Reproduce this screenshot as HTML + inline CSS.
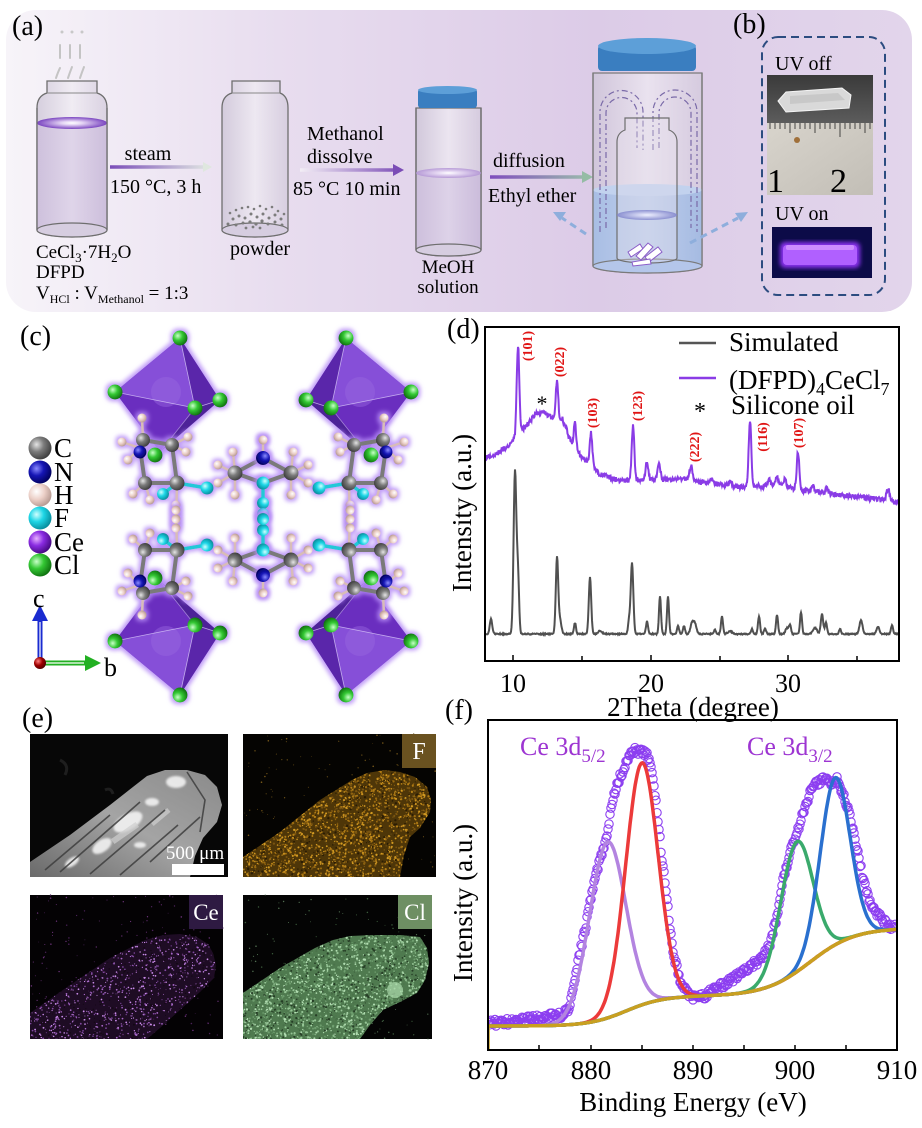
<!DOCTYPE html>
<html><head><meta charset="utf-8"><title>figure</title>
<style>
html,body{margin:0;padding:0;background:#fff;width:922px;height:1128px;overflow:hidden}
svg{display:block}
text{font-family:"Liberation Serif","Times New Roman",serif;}
</style></head><body>
<svg id="fig" width="922" height="1128" viewBox="0 0 922 1128" xmlns="http://www.w3.org/2000/svg">
<defs>
 <linearGradient id="bgA" x1="0" x2="1" y1="0" y2="0">
  <stop offset="0" stop-color="#f7f4f9"/>
  <stop offset="0.3" stop-color="#e8ddef"/>
  <stop offset="0.65" stop-color="#dccbe7"/>
  <stop offset="1" stop-color="#e2d5eb"/>
 </linearGradient>
 <linearGradient id="glass" x1="0" x2="1" y1="0" y2="0">
  <stop offset="0" stop-color="#cbc3d5"/><stop offset="0.5" stop-color="#efebf2"/><stop offset="1" stop-color="#d2c9db"/>
 </linearGradient>
 <linearGradient id="liq" x1="0" x2="1" y1="0" y2="0">
  <stop offset="0" stop-color="#cdbfdc"/><stop offset="0.5" stop-color="#ddd2e8"/><stop offset="1" stop-color="#cbbcdb"/>
 </linearGradient>
 <linearGradient id="bliq" x1="0" x2="1" y1="0" y2="0">
  <stop offset="0" stop-color="#a6bde4"/><stop offset="0.5" stop-color="#bccdec"/><stop offset="1" stop-color="#a3bae2"/>
 </linearGradient>
 <radialGradient id="pe" cx="0.5" cy="0.5" r="0.5">
  <stop offset="0" stop-color="#ffffff"/><stop offset="0.3" stop-color="#e4d4f4"/><stop offset="1" stop-color="#7a45c0"/>
 </radialGradient>
 <radialGradient id="pe2" cx="0.5" cy="0.5" r="0.5">
  <stop offset="0" stop-color="#ffffff"/><stop offset="0.3" stop-color="#e8dcf4"/><stop offset="1" stop-color="#b69ad6"/>
 </radialGradient>
 <radialGradient id="be" cx="0.5" cy="0.5" r="0.5">
  <stop offset="0" stop-color="#eef0ff"/><stop offset="1" stop-color="#8a8fd0"/>
 </radialGradient>
 <radialGradient id="gC" cx="0.35" cy="0.35" r="0.7"><stop offset="0" stop-color="#e4e4e4"/><stop offset="0.45" stop-color="#7c7c7c"/><stop offset="1" stop-color="#3c3c3c"/></radialGradient>
 <radialGradient id="gN" cx="0.35" cy="0.35" r="0.7"><stop offset="0" stop-color="#8a8aff"/><stop offset="0.45" stop-color="#1515b5"/><stop offset="1" stop-color="#00005a"/></radialGradient>
 <radialGradient id="gH" cx="0.35" cy="0.35" r="0.7"><stop offset="0" stop-color="#ffffff"/><stop offset="0.5" stop-color="#ecd0c8"/><stop offset="1" stop-color="#b59890"/></radialGradient>
 <radialGradient id="gF" cx="0.35" cy="0.35" r="0.7"><stop offset="0" stop-color="#d0ffff"/><stop offset="0.45" stop-color="#1ed6e6"/><stop offset="1" stop-color="#068a9a"/></radialGradient>
 <radialGradient id="gCe" cx="0.35" cy="0.35" r="0.7"><stop offset="0" stop-color="#e8b0ff"/><stop offset="0.45" stop-color="#8a2be2"/><stop offset="1" stop-color="#44087e"/></radialGradient>
 <radialGradient id="gCl" cx="0.35" cy="0.35" r="0.7"><stop offset="0" stop-color="#c8ffc8"/><stop offset="0.45" stop-color="#34c834"/><stop offset="1" stop-color="#0e6e0e"/></radialGradient>
 <radialGradient id="gRed" cx="0.35" cy="0.35" r="0.7"><stop offset="0" stop-color="#ff8080"/><stop offset="0.5" stop-color="#a00000"/><stop offset="1" stop-color="#500000"/></radialGradient>
 <filter id="glow" x="-20%" y="-20%" width="140%" height="140%">
  <feMorphology operator="dilate" radius="2" in="SourceAlpha" result="d"/>
  <feGaussianBlur in="d" stdDeviation="2.2" result="b"/>
  <feFlood flood-color="#b68cf6" flood-opacity="0.85"/>
  <feComposite in2="b" operator="in" result="g"/>
  <feMerge><feMergeNode in="g"/><feMergeNode in="SourceGraphic"/></feMerge>
 </filter>
 <filter id="blur2"><feGaussianBlur stdDeviation="2"/></filter>
 <filter id="blur1"><feGaussianBlur stdDeviation="1"/></filter>
 <filter id="blur3"><feGaussianBlur stdDeviation="3"/></filter>
 <linearGradient id="ar1" gradientUnits="userSpaceOnUse" x1="110" y1="0" x2="212" y2="0"><stop offset="0" stop-color="#7a4db8"/><stop offset="1" stop-color="#e4ebe4"/></linearGradient>
 <linearGradient id="ar2" gradientUnits="userSpaceOnUse" x1="300" y1="0" x2="403" y2="0"><stop offset="0" stop-color="#f3eef5"/><stop offset="1" stop-color="#7b4cb6"/></linearGradient>
 <linearGradient id="ar3" gradientUnits="userSpaceOnUse" x1="490" y1="0" x2="592" y2="0"><stop offset="0" stop-color="#7f4dbd"/><stop offset="1" stop-color="#9cc0ab"/></linearGradient>
 <linearGradient id="sem" x1="0" y1="1" x2="1" y2="0"><stop offset="0" stop-color="#6a6a6a"/><stop offset="0.5" stop-color="#a4a4a4"/><stop offset="1" stop-color="#8a8a8a"/></linearGradient>
 <linearGradient id="dark1" x1="0" y1="0" x2="0" y2="1"><stop offset="0" stop-color="#3a3a3a"/><stop offset="1" stop-color="#5c5c5c"/></linearGradient>
 <linearGradient id="ruler" x1="0" y1="0" x2="1" y2="1"><stop offset="0" stop-color="#d8d4cc"/><stop offset="1" stop-color="#c2beb6"/></linearGradient>
 <clipPath id="cSem"><polygon points="30,862 70,835 110,805 147,776 165,770 187,770 205,775 217,787 222,805 217,822 203,838 195,856 190,877 30,877"/></clipPath>
 <clipPath id="cF"><polygon points="243,857 280,832 320,800 352,780 367,773 385,770 400,772 415,777 427,787 431,800 430,812 420,828 410,837 404,855 400,877 243,877"/></clipPath>
 <clipPath id="cCe"><polygon points="30,1013 70,985 110,958 145,940 163,935 180,934 197,937 208,944 213,953 216,965 214,978 200,992 180,1010 160,1028 147,1039 30,1039"/></clipPath>
 <clipPath id="cCl"><polygon points="243,993 280,968 315,948 333,940 350,936 373,935 400,935 420,937 427,948 429,963 425,980 417,993 400,1002 383,1010 370,1025 360,1039 243,1039"/></clipPath>
 <clipPath id="cD"><rect x="486" y="328" width="413" height="332"/></clipPath>
 <clipPath id="cFx"><rect x="489" y="721" width="407" height="328"/></clipPath>

 <g id="quad">
  <g filter="url(#glow)">
   <polygon points="180,338 115,392 160,452 220,400" fill="#6c33c4"/>
   <polygon points="180,338 115,392 195,408" fill="#8650d8"/>
   <polygon points="115,392 195,408 160,452" fill="#6a2fbf"/>
   <polygon points="180,338 195,408 220,400" fill="#5a27aa"/>
   <polygon points="195,408 220,400 160,452" fill="#4e2098"/>
   <circle cx="166" cy="392" r="15" fill="#9a66e0" opacity="0.45"/>
   <polyline points="180,338 195,408 115,392" fill="none" stroke="#e6d8ff" stroke-width="0.8" opacity="0.7"/>
   <line x1="195" y1="408" x2="220" y2="400" stroke="#e6d8ff" stroke-width="0.8" opacity="0.7"/>
   <line x1="195" y1="408" x2="160" y2="452" stroke="#e6d8ff" stroke-width="0.8" opacity="0.5"/>
   <circle cx="180" cy="338" r="7.5" fill="url(#gCl)"/>
   <circle cx="115" cy="392" r="7.5" fill="url(#gCl)"/>
   <circle cx="220" cy="400" r="7.5" fill="url(#gCl)"/>
   <circle cx="195" cy="408" r="7.5" fill="url(#gCl)"/>
  </g>
  <g filter="url(#glow)">
   <g stroke="#d8bcb8" stroke-width="2.5" stroke-linecap="round">
    <line x1="143" y1="440" x2="142" y2="418"/><line x1="140" y1="448" x2="122" y2="442"/><line x1="140" y1="448" x2="128" y2="460"/>
    <line x1="145" y1="483" x2="133" y2="494"/><line x1="145" y1="483" x2="150" y2="500"/>
    <line x1="172" y1="445" x2="188" y2="437"/><line x1="172" y1="445" x2="186" y2="452"/>
    <line x1="177" y1="483" x2="176" y2="525"/>
    <line x1="263" y1="458" x2="263" y2="440"/>
    <line x1="235" y1="473" x2="233" y2="452"/><line x1="235" y1="473" x2="218" y2="465"/><line x1="235" y1="473" x2="218" y2="483"/><line x1="235" y1="473" x2="235" y2="495"/>
   </g>
   <g stroke="#7a7a7a" stroke-width="4" stroke-linecap="round">
    <line x1="143" y1="440" x2="140" y2="448"/><line x1="140" y1="448" x2="145" y2="483"/>
    <line x1="145" y1="483" x2="177" y2="483"/><line x1="177" y1="483" x2="172" y2="445"/>
    <line x1="172" y1="445" x2="143" y2="440"/>
    <line x1="263" y1="458" x2="235" y2="473"/><line x1="235" y1="473" x2="263" y2="483"/>
   </g>
   <g stroke="#23c8d8" stroke-width="3.5" stroke-linecap="round">
    <line x1="177" y1="483" x2="163" y2="494"/><line x1="177" y1="483" x2="207" y2="488"/>
    <line x1="263" y1="483" x2="263" y2="516"/>
   </g>
   <circle cx="142" cy="418" r="4.5" fill="url(#gH)"/><circle cx="122" cy="442" r="4.5" fill="url(#gH)"/>
   <circle cx="128" cy="460" r="4.5" fill="url(#gH)"/><circle cx="133" cy="494" r="4.5" fill="url(#gH)"/>
   <circle cx="150" cy="500" r="4.5" fill="url(#gH)"/><circle cx="188" cy="437" r="4.5" fill="url(#gH)"/>
   <circle cx="186" cy="452" r="4.5" fill="url(#gH)"/><circle cx="176" cy="505" r="4.5" fill="url(#gH)"/>
   <circle cx="176" cy="514" r="4.5" fill="url(#gH)"/><circle cx="176" cy="523" r="4.5" fill="url(#gH)"/>
   <circle cx="263" cy="440" r="4.5" fill="url(#gH)"/><circle cx="233" cy="452" r="4.5" fill="url(#gH)"/>
   <circle cx="218" cy="465" r="4.5" fill="url(#gH)"/><circle cx="218" cy="483" r="4.5" fill="url(#gH)"/>
   <circle cx="235" cy="495" r="4.5" fill="url(#gH)"/>
   <circle cx="143" cy="440" r="7" fill="url(#gC)"/>
   <circle cx="140" cy="452" r="6.5" fill="url(#gN)"/>
   <circle cx="145" cy="483" r="7" fill="url(#gC)"/>
   <circle cx="172" cy="445" r="7" fill="url(#gC)"/>
   <circle cx="177" cy="483" r="7.5" fill="url(#gC)"/>
   <circle cx="163" cy="494" r="6" fill="url(#gF)"/>
   <circle cx="207" cy="488" r="6.5" fill="url(#gF)"/>
   <circle cx="263" cy="458" r="7" fill="url(#gN)"/>
   <circle cx="235" cy="473" r="7.5" fill="url(#gC)"/>
   <circle cx="263" cy="483" r="6.5" fill="url(#gF)"/>
   <circle cx="263" cy="503" r="6" fill="url(#gF)"/>
   <circle cx="263" cy="514" r="6" fill="url(#gF)"/>
   <circle cx="155" cy="455" r="7.5" fill="url(#gCl)"/>
  </g>
 </g>
</defs>

<!-- ============ PANEL (a) ============ -->
<rect x="6" y="10" width="906" height="302" rx="30" fill="url(#bgA)"/>
<text x="12" y="35" font-size="28">(a)</text>

<g fill="none" stroke="#c4c4c4" stroke-width="2" stroke-linecap="round">
 <path d="M56,78 Q58,72 60,68"/><path d="M68,78 Q70,72 72,67"/><path d="M80,78 Q82,72 84,67"/>
 <path d="M60,58 L60,45"/><path d="M70,58 L70,45"/><path d="M80,58 L80,45"/>
</g>
<g fill="#c8c8c8"><circle cx="62" cy="32" r="1.5"/><circle cx="72" cy="32" r="1.5"/><circle cx="82" cy="32" r="1.5"/></g>

<path d="M47,81 L97,81 L97,93 Q107,96 107,108 L107,230 A35,7 0 0 1 37,230 L37,108 Q37,96 47,93 Z" fill="url(#glass)" fill-opacity="0.75" stroke="#6e6e6e" stroke-width="1.3"/>
<path d="M37,123 L107,123 L107,230 A35,7 0 0 1 37,230 Z" fill="url(#liq)" opacity="0.9"/>
<ellipse cx="72" cy="230" rx="35" ry="7" fill="#d6cde0" stroke="#6e6e6e" stroke-width="1.2"/>
<line x1="47" y1="93" x2="97" y2="93" stroke="#888" stroke-width="1"/>
<ellipse cx="72" cy="123" rx="35" ry="6" fill="url(#pe)"/>
<path d="M37,108 L37,230 M107,108 L107,230" stroke="#6e6e6e" stroke-width="1.3"/>

<line x1="110" y1="167" x2="204" y2="167" stroke="url(#ar1)" stroke-width="3.5"/>
<polygon points="203,162 212,167 203,172" fill="#dfe7df"/>
<text x="148" y="160" font-size="20" text-anchor="middle">steam</text>
<text x="110" y="193" font-size="20">150 °C, 3 h</text>

<text x="36" y="258" font-size="19">CeCl<tspan font-size="13" dy="4">3</tspan><tspan dy="-4">·7H</tspan><tspan font-size="13" dy="4">2</tspan><tspan dy="-4">O</tspan></text>
<text x="36" y="278" font-size="19">DFPD</text>
<text x="36" y="299" font-size="19">V<tspan font-size="12" dy="4">HCl</tspan><tspan dy="-4"> : V</tspan><tspan font-size="12" dy="4">Methanol</tspan><tspan dy="-4"> = 1:3</tspan></text>

<path d="M232,81 L280,81 L280,93 Q288,96 288,108 L288,230 A33,7 0 0 1 222,230 L222,108 Q222,96 232,93 Z" fill="url(#glass)" fill-opacity="0.75" stroke="#6e6e6e" stroke-width="1.3"/>
<ellipse cx="255" cy="230" rx="33" ry="7" fill="#d6cde0" stroke="#6e6e6e" stroke-width="1.2"/>
<line x1="232" y1="93" x2="280" y2="93" stroke="#888" stroke-width="1"/>
<g fill="#7c7c7c">
 <circle cx="230" cy="213" r="1.3"/><circle cx="236" cy="210" r="1.3"/><circle cx="242" cy="208" r="1.3"/><circle cx="248" cy="207" r="1.3"/><circle cx="254" cy="209" r="1.3"/><circle cx="260" cy="206" r="1.3"/><circle cx="266" cy="209" r="1.3"/><circle cx="272" cy="207" r="1.3"/><circle cx="278" cy="211" r="1.3"/><circle cx="284" cy="214" r="1.3"/>
 <circle cx="233" cy="219" r="1.5"/><circle cx="239" cy="216" r="1.5"/><circle cx="245" cy="218" r="1.5"/><circle cx="251" cy="214" r="1.5"/><circle cx="257" cy="217" r="1.5"/><circle cx="263" cy="214" r="1.5"/><circle cx="269" cy="218" r="1.5"/><circle cx="275" cy="215" r="1.5"/><circle cx="281" cy="219" r="1.5"/>
 <circle cx="228" cy="224" r="1.5"/><circle cx="236" cy="225" r="1.5"/><circle cx="243" cy="223" r="1.5"/><circle cx="250" cy="222" r="1.6"/><circle cx="256" cy="224" r="1.6"/><circle cx="262" cy="221" r="1.6"/><circle cx="268" cy="224" r="1.5"/><circle cx="275" cy="222" r="1.5"/><circle cx="282" cy="225" r="1.5"/>
 <circle cx="246" cy="228" r="1.4"/><circle cx="253" cy="227" r="1.4"/><circle cx="260" cy="228" r="1.4"/>
</g>
<text x="230" y="255" font-size="20">powder</text>

<line x1="300" y1="170" x2="394" y2="170" stroke="url(#ar2)" stroke-width="3.5"/>
<polygon points="393,164 404,170 393,176" fill="#7b4cb6"/>
<text x="307" y="140" font-size="20">Methanol</text>
<text x="307" y="163" font-size="20">dissolve</text>
<text x="293" y="195" font-size="20">85 °C 10 min</text>

<path d="M416,108 L481,108 L481,250 A32.5,6 0 0 1 416,250 Z" fill="url(#glass)" fill-opacity="0.75" stroke="#6e6e6e" stroke-width="1.3"/>
<path d="M416,173 L481,173 L481,250 A32.5,6 0 0 1 416,250 Z" fill="url(#liq)"/>
<ellipse cx="448.5" cy="250" rx="32.5" ry="6" fill="#d6cde0" stroke="#6e6e6e" stroke-width="1.2"/>
<path d="M416,108 L416,250 M481,108 L481,250" stroke="#6e6e6e" stroke-width="1.3"/>
<ellipse cx="448.5" cy="173" rx="32.5" ry="5" fill="url(#pe2)"/>
<rect x="418" y="89" width="59" height="19" rx="3" fill="#3a7ec0"/>
<ellipse cx="447.5" cy="90" rx="29.5" ry="4" fill="#5d9fd8"/>
<text x="448" y="273" font-size="19" text-anchor="middle">MeOH</text>
<text x="448" y="293" font-size="19" text-anchor="middle">solution</text>

<line x1="490" y1="177" x2="583" y2="177" stroke="url(#ar3)" stroke-width="3.5"/>
<polygon points="582,171 593,177 582,183" fill="#95bca5"/>
<text x="493" y="167" font-size="20">diffusion</text>
<text x="488" y="202" font-size="20">Ethyl ether</text>

<path d="M593,73 L702,73 L702,266 A54.5,7 0 0 1 593,266 Z" fill="url(#glass)" fill-opacity="0.7" stroke="#7a7a7a" stroke-width="1.3"/>
<path d="M593,190 L702,190 L702,266 A54.5,7 0 0 1 593,266 Z" fill="url(#bliq)" opacity="0.95"/>
<ellipse cx="647.5" cy="190" rx="54.5" ry="6" fill="#c2d2ee"/>
<ellipse cx="647.5" cy="266" rx="54.5" ry="7" fill="#b4c6ea" stroke="#7a7a7a" stroke-width="1.2"/>
<g fill="none" stroke="#7a6aa8" stroke-width="1.2" stroke-dasharray="6,3,2,3">
 <path d="M600,232 L600,112 A21.5,21.5 0 0 1 643,112 L643,150"/>
 <path d="M606,228 L606,113 A15.5,15.5 0 0 1 637,113 L637,148"/>
 <path d="M653,150 L653,112 A22,22 0 0 1 697,112 L697,232"/>
 <path d="M659,148 L659,113 A16,16 0 0 1 691,113 L691,228"/>
</g>
<path d="M625,118 L669,118 L669,130 Q677,133 677,142 L677,258 A30,5 0 0 1 617,258 L617,142 Q617,133 625,130 Z" fill="#e4e0ec" fill-opacity="0.35" stroke="#6e6e6e" stroke-width="1.2"/>
<ellipse cx="647" cy="215" rx="30" ry="5" fill="url(#be)"/>
<g fill="#ffffff" stroke="#8a5cc8" stroke-width="1">
 <polygon points="628,252 640,244 643,249 631,257"/>
 <polygon points="636,256 648,243 653,247 641,260"/>
 <polygon points="645,257 658,247 662,252 649,262"/>
 <polygon points="632,262 650,259 651,264 633,266"/>
</g>
<rect x="598" y="45" width="98" height="26" rx="4" fill="#3a7ec0"/>
<ellipse cx="647" cy="46" rx="49" ry="8" fill="#5d9fd8"/>
<path d="M593,73 L593,266 M702,73 L702,266" stroke="#7a7a7a" stroke-width="1.3"/>

<g stroke="#8eaedc" stroke-width="3" stroke-dasharray="7,5" fill="none">
 <line x1="586" y1="234" x2="562" y2="218"/>
 <line x1="690" y1="243" x2="738" y2="218"/>
</g>
<polygon points="553,212 566,212 560,221" fill="#8eaedc"/>
<polygon points="748,212 735,213 741,222" fill="#8eaedc"/>

<text x="733" y="33" font-size="28">(b)</text>
<rect x="762" y="37" width="123" height="258" rx="16" fill="none" stroke="#2c4c80" stroke-width="2" stroke-dasharray="8,5"/>
<text x="775" y="70" font-size="20">UV off</text>
<rect x="767" y="75" width="106" height="48" fill="url(#dark1)"/>
<polygon points="778,101 786,92 842,88 851,95 849,108 786,112" fill="#d9d9d9" stroke="#f4f4f4" stroke-width="1"/>
<polygon points="790,96 838,93 845,100 790,104" fill="#bdbdbd" opacity="0.6"/>
<rect x="767" y="123" width="106" height="72" fill="url(#ruler)"/>
<g stroke="#222" stroke-width="0.8">
 <line x1="770" y1="123" x2="770" y2="129"/><line x1="775" y1="123" x2="775" y2="129"/><line x1="780" y1="123" x2="780" y2="129"/><line x1="785" y1="123" x2="785" y2="129"/><line x1="790" y1="123" x2="790" y2="133"/>
 <line x1="795" y1="123" x2="795" y2="129"/><line x1="800" y1="123" x2="800" y2="129"/><line x1="805" y1="123" x2="805" y2="129"/><line x1="810" y1="123" x2="810" y2="129"/><line x1="815" y1="123" x2="815" y2="133"/>
 <line x1="820" y1="123" x2="820" y2="129"/><line x1="825" y1="123" x2="825" y2="129"/><line x1="830" y1="123" x2="830" y2="129"/><line x1="835" y1="123" x2="835" y2="129"/><line x1="840" y1="123" x2="840" y2="137"/>
 <line x1="845" y1="123" x2="845" y2="129"/><line x1="850" y1="123" x2="850" y2="129"/><line x1="855" y1="123" x2="855" y2="129"/><line x1="860" y1="123" x2="860" y2="129"/><line x1="865" y1="123" x2="865" y2="133"/><line x1="870" y1="123" x2="870" y2="129"/>
</g>
<circle cx="797" cy="140" r="3" fill="#a0703a"/>
<text x="767" y="192" font-size="34" font-family="Liberation Sans, sans-serif">1</text>
<text x="830" y="192" font-size="34" font-family="Liberation Sans, sans-serif">2</text>
<text x="775" y="220" font-size="20">UV on</text>
<rect x="772" y="227" width="100" height="51" fill="#0c0b48"/>
<rect x="780" y="242" width="80" height="26" rx="5" fill="#8a30f0" filter="url(#blur2)"/>
<rect x="783" y="245" width="74" height="20" rx="4" fill="#b060ff"/>
<rect x="786" y="245" width="68" height="5" rx="2" fill="#d8a0ff" opacity="0.7"/>

<!-- ============ PANEL (c) ============ -->
<text x="20" y="345" font-size="28">(c)</text>
<use href="#quad"/>
<use href="#quad" transform="translate(526,0) scale(-1,1)"/>
<use href="#quad" transform="translate(0,1033) scale(1,-1)"/>
<use href="#quad" transform="translate(526,1033) scale(-1,-1)"/>

<circle cx="40" cy="448" r="11.5" fill="url(#gC)"/>
<circle cx="40" cy="472" r="11.5" fill="url(#gN)"/>
<circle cx="40" cy="495" r="11.5" fill="url(#gH)"/>
<circle cx="40" cy="518" r="11.5" fill="url(#gF)"/>
<circle cx="40" cy="542" r="11.5" fill="url(#gCe)"/>
<circle cx="40" cy="565" r="11.5" fill="url(#gCl)"/>
<g font-size="27">
 <text x="54" y="457">C</text><text x="54" y="481">N</text><text x="54" y="504">H</text>
 <text x="54" y="527">F</text><text x="54" y="551">Ce</text><text x="54" y="574">Cl</text>
</g>
<line x1="40" y1="663" x2="40" y2="620" stroke="#1a2bd0" stroke-width="5"/>
<line x1="40" y1="660" x2="40" y2="622" stroke="#ffffff" stroke-width="1.2"/>
<polygon points="32,621 48,621 40,605" fill="#1a2bd0"/>
<line x1="40" y1="663" x2="86" y2="663" stroke="#22b022" stroke-width="5"/>
<line x1="43" y1="663" x2="84" y2="663" stroke="#ffffff" stroke-width="1.2"/>
<polygon points="85,655 85,671 101,663" fill="#22b022"/>
<circle cx="40" cy="663" r="6" fill="url(#gRed)"/>
<text x="33" y="607" font-size="26">c</text>
<text x="104" y="676" font-size="26">b</text>

<!-- ============ PANEL (d) ============ -->
<text x="447" y="338" font-size="28">(d)</text>
<g id="xrd" clip-path="url(#cD)"></g>
<rect x="485" y="327" width="414" height="334" fill="none" stroke="#000" stroke-width="2"/>
<g stroke="#000" stroke-width="1.5">
 <line x1="513" y1="661" x2="513" y2="655"/><line x1="582" y1="661" x2="582" y2="656"/>
 <line x1="651" y1="661" x2="651" y2="655"/><line x1="720" y1="661" x2="720" y2="656"/>
 <line x1="788" y1="661" x2="788" y2="655"/><line x1="857" y1="661" x2="857" y2="656"/>
</g>
<g font-size="26" text-anchor="middle">
 <text x="513" y="692">10</text><text x="651" y="692">20</text><text x="788" y="692">30</text>
</g>
<text x="693" y="716" font-size="27" text-anchor="middle">2Theta (degree)</text>
<text transform="translate(471,513) rotate(-90)" font-size="27" text-anchor="middle">Intensity (a.u.)</text>

<line x1="679" y1="343" x2="716" y2="343" stroke="#555" stroke-width="2.5"/>
<line x1="679" y1="378" x2="716" y2="378" stroke="#8a3ce6" stroke-width="2.5"/>
<text x="729" y="351" font-size="27">Simulated</text>
<text x="729" y="389" font-size="27">(DFPD)<tspan font-size="18" dy="6">4</tspan><tspan dy="-6">CeCl</tspan><tspan font-size="18" dy="6">7</tspan></text>
<text x="700" y="419" font-size="24" text-anchor="middle">*</text>
<text x="731" y="414" font-size="27">Silicone oil</text>
<text x="542" y="411" font-size="22" text-anchor="middle">*</text>
<g font-size="14" font-weight="bold" fill="#e01414" text-anchor="middle">
 <text transform="translate(532,346) rotate(-90)">(101)</text>
 <text transform="translate(564,362) rotate(-90)">(022)</text>
 <text transform="translate(597,413) rotate(-90)">(103)</text>
 <text transform="translate(642,406) rotate(-90)">(123)</text>
 <text transform="translate(699,447) rotate(-90)">(222)</text>
 <text transform="translate(767,437) rotate(-90)">(116)</text>
 <text transform="translate(803,433) rotate(-90)">(107)</text>
</g>

<!-- ============ PANEL (e) ============ -->
<text x="22" y="727" font-size="28">(e)</text>
<rect x="30" y="734" width="198" height="143" fill="#070707"/>
<path d="M60,760 q10,5 5,15 M105,790 q6,-3 8,4" stroke="#1e1e1e" stroke-width="3" fill="none"/>
<polygon points="30,862 70,835 110,805 147,776 165,770 187,770 205,775 217,787 222,805 217,822 203,838 195,856 190,877 30,877" fill="url(#sem)"/>
<g clip-path="url(#cSem)">
 <g fill="#f2f2f2" opacity="0.9" filter="url(#blur1)">
  <ellipse cx="128" cy="822" rx="16" ry="8" transform="rotate(-30 128 822)"/>
  <ellipse cx="102" cy="846" rx="11" ry="6" transform="rotate(-35 102 846)"/>
  <ellipse cx="176" cy="782" rx="10" ry="6"/>
  <ellipse cx="152" cy="802" rx="7" ry="4"/>
  <ellipse cx="72" cy="862" rx="8" ry="4" transform="rotate(-35 72 862)"/>
  <ellipse cx="140" cy="845" rx="6" ry="3"/>
 </g>
 <g fill="#cfcfcf" opacity="0.7">
  <rect x="110" y="830" width="30" height="6" transform="rotate(-35 125 833)"/>
  <rect x="150" y="815" width="22" height="5" transform="rotate(-40 160 818)"/>
 </g>
 <g stroke="#3e3e3e" stroke-width="1.6" fill="none" opacity="0.85">
  <path d="M60,872 L140,802"/><path d="M90,874 L165,810"/><path d="M150,862 L200,817"/><path d="M187,772 L205,800 L200,832"/>
  <path d="M120,875 L178,825"/><path d="M45,870 L110,815"/>
 </g>
</g>
<rect x="172" y="864" width="52" height="11" fill="#ffffff"/>
<text x="195" y="859" font-size="19" fill="#ffffff" text-anchor="middle">500 μm</text>
<!-- F -->
<rect x="243" y="734" width="193" height="143" fill="#050402"/>
<polygon points="243,857 280,832 320,800 352,780 367,773 385,770 400,772 415,777 427,787 431,800 430,812 420,828 410,837 404,855 400,877 243,877" fill="#4e3608"/>
<g id="dF" clip-path="url(#cF)"></g>
<g id="oF"></g>
<rect x="402" y="734" width="34" height="34" fill="#6a5220"/>
<text x="419" y="759" font-size="24" fill="#ffffff" text-anchor="middle">F</text>
<!-- Ce -->
<rect x="30" y="895" width="193" height="144" fill="#040204"/>
<polygon points="30,1013 70,985 110,958 145,940 163,935 180,934 197,937 208,944 213,953 216,965 214,978 200,992 180,1010 160,1028 147,1039 30,1039" fill="#1e0c24"/>
<g id="dCe" clip-path="url(#cCe)"></g>
<g id="oCe"></g>
<rect x="189" y="895" width="34" height="34" fill="#2e1a42"/>
<text x="206" y="920" font-size="23" fill="#ffffff" text-anchor="middle">Ce</text>
<!-- Cl -->
<rect x="243" y="895" width="189" height="144" fill="#040404"/>
<polygon points="243,993 280,968 315,948 333,940 350,936 373,935 400,935 420,937 427,948 429,963 425,980 417,993 400,1002 383,1010 370,1025 360,1039 243,1039" fill="#4f7a4f"/>
<g id="dCl" clip-path="url(#cCl)"></g>
<g id="oCl"></g>
<circle cx="395" cy="990" r="8" fill="#a8d8a8" opacity="0.75"/>
<rect x="398" y="895" width="34" height="34" fill="#6e8f63"/>
<text x="415" y="920" font-size="23" fill="#ffffff" text-anchor="middle">Cl</text>

<!-- ============ PANEL (f) ============ -->
<text x="445" y="719" font-size="28">(f)</text>
<g id="xps" clip-path="url(#cFx)"></g>
<rect x="488" y="720" width="409" height="330" fill="none" stroke="#000" stroke-width="2"/>
<g stroke="#000" stroke-width="1.5">
 <line x1="539" y1="1050" x2="539" y2="1045"/><line x1="591" y1="1050" x2="591" y2="1045"/>
 <line x1="642" y1="1050" x2="642" y2="1045"/><line x1="693" y1="1050" x2="693" y2="1045"/>
 <line x1="744" y1="1050" x2="744" y2="1045"/><line x1="795" y1="1050" x2="795" y2="1045"/>
 <line x1="846" y1="1050" x2="846" y2="1045"/>
</g>
<g font-size="27" text-anchor="middle">
 <text x="488" y="1079">870</text><text x="591" y="1079">880</text><text x="693" y="1079">890</text>
 <text x="795" y="1079">900</text><text x="897" y="1079">910</text>
</g>
<text x="693" y="1111" font-size="27" text-anchor="middle">Binding Energy (eV)</text>
<text transform="translate(472,903) rotate(-90)" font-size="27" text-anchor="middle">Intensity (a.u.)</text>
<text x="520" y="755" font-size="26" fill="#9d35d2">Ce 3d<tspan font-size="19" dy="7">5/2</tspan></text>
<text x="747" y="755" font-size="26" fill="#9d35d2">Ce 3d<tspan font-size="19" dy="7">3/2</tspan></text>
</svg>

<script>
(function(){
var NS="http://www.w3.org/2000/svg";
var seed=987654;
function r(){seed=(seed*16807)%2147483647;return seed/2147483647;}
function el(tag,a,p){var e=document.createElementNS(NS,tag);for(var k in a)e.setAttribute(k,a[k]);p.appendChild(e);return e;}
function interp(p,x){for(var i=0;i<p.length-1;i++){if(x<=p[i+1][0]){var t=(x-p[i][0])/(p[i+1][0]-p[i][0]);return p[i][1]+t*(p[i+1][1]-p[i][1]);}}return p[p.length-1][1];}

/* ---- XRD ---- */
var gx=document.getElementById('xrd');
var sp=[[491,15,1.2],[515,163,1.4],[518,55,1.1],[557,76,1.2],[560,14,1.4],[575,11,1],[590,57,1.2],[600,3,2],[632,71,1.3],[629,12,1],[647,13,1],[660,38,1],[668,38,1],[678,8,1],[684,8,1],[692,11,1.5],[695,10,1.5],[715,4,1],[722,18,1],[730,3,2],[752,5,1],[759,18,1],[765,6,1],[777,19,1],[787,6,1.5],[790,9,1],[801,22,1],[815,6,2],[822,20,1.2],[826,12,1],[840,5,1],[861,14,1.5],[878,7,1.5],[892,9,1]];
var d='';
for(var x=485;x<=900;x+=0.5){var y=634;for(var i=0;i<sp.length;i++){var q=sp[i];y-=q[1]*Math.exp(-(x-q[0])*(x-q[0])/(2*q[2]*q[2]));}y+=(r()-0.5)*1.2;d+=(d?'L':'M')+x.toFixed(1)+','+y.toFixed(1);}
el('path',{d:d,fill:'none',stroke:'#505050','stroke-width':'2'},gx);
var bp=[[485,458],[500,452],[512,442],[525,427],[535,415],[542,411],[550,416],[560,425],[570,440],[580,455],[590,465],[600,474],[620,481],[650,480],[680,479],[700,482],[740,487],[780,485],[800,490],[840,495],[870,498],[900,503]];
var pp=[[518,90,1.3],[557,41,1.3],[562,10,1.5],[566,8,1.5],[575,24,1.2],[591,33,1.3],[633,54,1.3],[647,19,1.3],[659,17,1.3],[691,15,1.5],[750,65,1.3],[798,37,1.3],[769,8,1.2],[777,9,1.2],[785,8,1],[813,6,1.2],[827,6,1.2],[888,12,1.5],[712,4,1.5],[730,4,1.5]];
d='';
for(var x=485;x<=900;x+=0.5){var y=interp(bp,x);for(var i=0;i<pp.length;i++){var q=pp[i];y-=q[1]*Math.exp(-(x-q[0])*(x-q[0])/(2*q[2]*q[2]));}y+=(r()-0.5)*5;d+=(d?'L':'M')+x.toFixed(1)+','+y.toFixed(1);}
el('path',{d:d,fill:'none',stroke:'#8a3ce6','stroke-width':'2'},gx);

/* ---- XPS ---- */
var gf=document.getElementById('xps');
function X(E){return 488+(E-870)*10.225;}
function sig(z){return 1/(1+Math.exp(-z));}
function bgH(E){return 2+30*sig((E-883.5)/1.8)+68*sig((E-901.5)/2.2);}
function G(E,c,h,s){return h*Math.exp(-(E-c)*(E-c)/(2*s*s));}
var comps=[[881.7,176,1.78,'#b384e0'],[885.05,242,1.58,'#ec3a3a'],[900.2,130,1.58,'#3aaa6c'],[903.95,167,1.46,'#2a70cf']];
var dp=[[488,1023],[507,1022],[540,1018],[563,1015],[568,1010],[573,990],[580,953],[587,920],[593,887],[600,860],[607,837],[610,817],[613,797],[620,777],[627,760],[633,750],[640,752],[647,755],[650,760],[653,777],[657,810],[660,840],[663,867],[667,897],[670,927],[673,953],[680,980],[687,993],[693,998],[703,997],[713,990],[727,983],[740,973],[753,965],[763,957],[770,943],[777,917],[783,880],[790,853],[797,833],[803,813],[810,793],[817,783],[823,780],[830,783],[837,780],[843,793],[850,817],[857,847],[863,880],[870,903],[877,913],[883,920],[890,927],[897,927]];
var dots=document.createDocumentFragment();
for(var x=488;x<=897;x+=1){
 var y=interp(dp,x)+(r()-0.5)*7;
 var c=document.createElementNS(NS,'circle');
 c.setAttribute('cx',x.toFixed(1));c.setAttribute('cy',y.toFixed(1));c.setAttribute('r','4.2');
 c.setAttribute('fill','none');c.setAttribute('stroke','#8c3ef0');c.setAttribute('stroke-width','1.1');
 dots.appendChild(c);
}
gf.appendChild(dots);
for(var i=0;i<4;i++){
 d='';
 for(var E=870;E<=910.001;E+=0.1){var y=1028-bgH(E)-G(E,comps[i][0],comps[i][1],comps[i][2]);d+=(d?'L':'M')+X(E).toFixed(1)+','+y.toFixed(1);}
 el('path',{d:d,fill:'none',stroke:comps[i][3],'stroke-width':'3.5'},gf);
}
d='M488,1050L488,1026';
for(var E=870;E<=910.001;E+=0.1){d+='L'+X(E).toFixed(1)+','+(1028-bgH(E)).toFixed(1);}
el('path',{d:d,fill:'none',stroke:'#c9a020','stroke-width':'3.5'},gf);

/* ---- EDS speckles ---- */
function speck(id,x0,y0,w,h,n,cols,rmin,rmax){
 var g=document.getElementById(id);var f=document.createDocumentFragment();
 for(var i=0;i<n;i++){var c=document.createElementNS(NS,'circle');
  c.setAttribute('cx',(x0+r()*w).toFixed(1));c.setAttribute('cy',(y0+r()*h).toFixed(1));
  c.setAttribute('r',(rmin+r()*(rmax-rmin)).toFixed(2));c.setAttribute('fill',cols[Math.floor(r()*cols.length)]);f.appendChild(c);}
 g.appendChild(f);
}
speck('dF',243,766,190,112,3000,['#b27c14','#9a6a10','#c89020','#2a1c04','#7a5410','#d29a22'],0.5,1.2);
speck('oF',243,734,193,143,140,['#5a4414','#7a5a1a'],0.4,0.8);
speck('dCe',30,930,190,110,1700,['#a868c8','#8048a0','#c88ae8','#140814'],0.45,0.95);
speck('oCe',30,895,193,144,180,['#4a2258','#6a3278'],0.4,0.8);
speck('dCl',243,930,190,110,3200,['#94c494','#6e9e6e','#b0dcb0','#263e26','#4a724a'],0.5,1.2);
speck('oCl',243,895,189,144,140,['#3a5a3a','#506e50'],0.4,0.8);
})();
</script>
</body></html>
